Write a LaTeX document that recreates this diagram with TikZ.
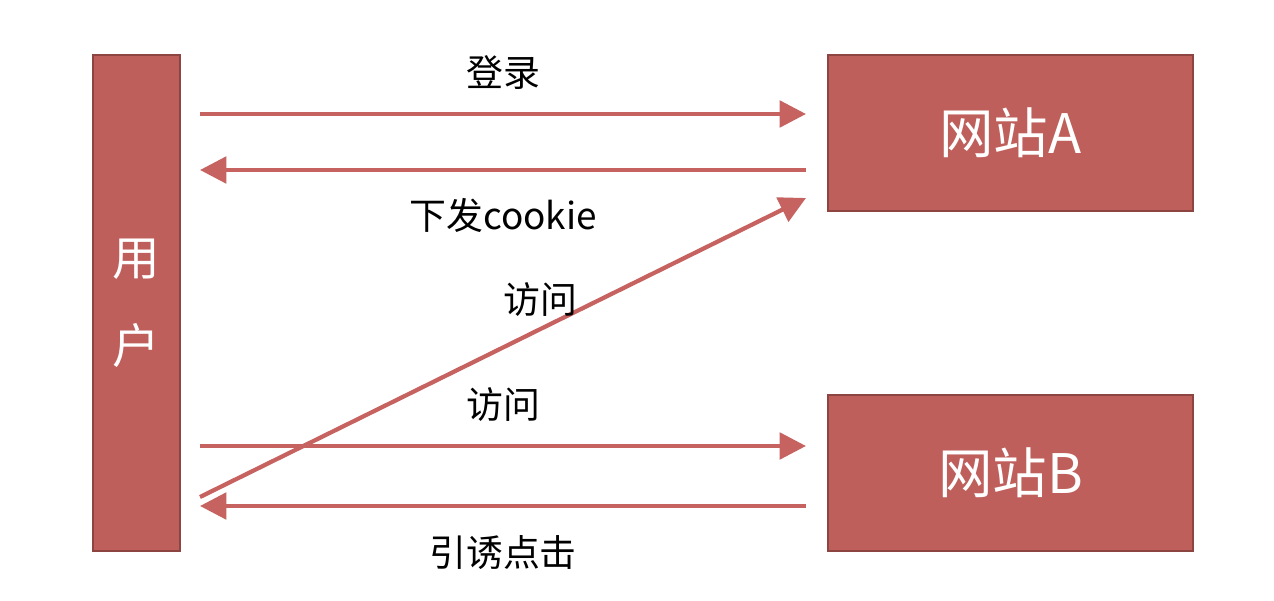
\documentclass[tikz,border=0pt]{standalone}
\usepackage{fontspec}
\setmainfont{Noto Sans CJK SC}
\usepackage{tikz}
\usetikzlibrary{arrows.meta,positioning}
\definecolor{csrfbox}{HTML}{BF5F5B}
\definecolor{csrfedge}{HTML}{8C4541}
\definecolor{csrfline}{HTML}{C6625F}

\begin{document}
\begin{tikzpicture}[>=Stealth,font=\fontsize{21}{25}\selectfont,
  site/.style={draw=csrfedge,line width=1.4pt,fill=csrfbox,text=white,minimum width=7.3cm,minimum height=3.12cm,font=\fontsize{31}{34}\selectfont},
  flow/.style={draw=csrfline,line width=2.4pt,-{Triangle[length=15pt,width=15pt]}}]
\useasboundingbox (0,0) rectangle (25.48,12);
\node[draw=csrfedge,line width=1.4pt,fill=csrfbox,text=white,minimum width=1.74cm,minimum height=9.92cm,align=center,
 font=\fontsize{27}{50}\selectfont](user) at (2.73,5.94){用\\户};
\node[site](siteA) at (20.21,9.34){网站A};
\node[site](siteB) at (20.21,2.54){网站B};
% arrow ends
\coordinate (loginL) at (4.0,9.72);
\coordinate (loginR) at (16.12,9.72);
\coordinate (cookieR) at (16.12,8.6);
\coordinate (cookieL) at (4.0,8.6);
\coordinate (visitA) at (16.12,8.04);
\coordinate (lureL) at (4.0,1.88);
\coordinate (lureR) at (16.12,1.88);
\coordinate (visitL) at (4.0,3.08);
\coordinate (visitR) at (16.12,3.08);
\coordinate (fromU) at (4.0,2.06);
\draw[flow] (loginL)--(loginR);
\draw[flow] (cookieR)--(cookieL);
\draw[flow] (visitL)--(visitR);
\draw[flow] (lureR)--(lureL);
\draw[flow] (fromU)--(visitA);
\node(login) at (10.06,10.54){登录};
\node(cookie) at (10.06,7.7){下发cookie};
\node(visit1) at (10.8,6.0){访问};
\node(visit2) at (10.06,3.9){访问};
\node(lure) at (10.06,0.94){引诱点击};
\end{tikzpicture}
\end{document}
